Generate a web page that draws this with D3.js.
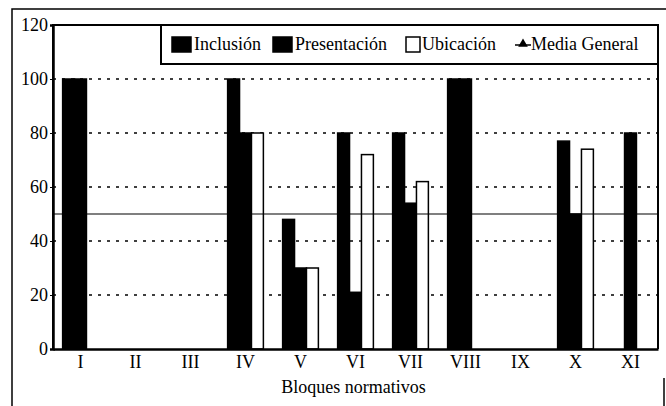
<!DOCTYPE html>
<meta charset="utf-8">
<body style="margin:0">
<svg width="666" height="406"></svg>
<script src="https://cdn.jsdelivr.net/npm/d3@7/dist/d3.min.js"></script>
<script>
// data
var bloques = ["I", "II", "III", "IV", "V", "VI", "VII", "VIII", "IX", "X", "XI"];
var inclusion    = [100, 0, 0, 100, 48, 80, 80, 100, 0, 77, 0];
var presentacion = [100, 0, 0, 80, 30, 21, 54, 100, 0, 50, 80];
var ubicacion    = [0, 0, 0, 80, 30, 72, 62, 0, 0, 74, 0];
var mediaGeneral = 50;
var yTicks = [0, 20, 40, 60, 80, 100, 120];

var serif = "'Liberation Serif'";

var series = [
  {name: "Inclusión", values: inclusion, fill: "#000"},
  {name: "Presentación", values: presentacion, fill: "#000"},
  {name: "Ubicación", values: ubicacion, fill: "#fff"}
];

var svg = d3.select("svg"),
    margin = {top: 25, right: 8, bottom: 57, left: 53},
    width = svg.attr("width") - margin.left - margin.right,
    height = svg.attr("height") - margin.top - margin.bottom;

// scanned page border
svg.append("path")
    .attr("d", "M12,420V9H666")
    .attr("fill", "none")
    .attr("stroke", "#000")
    .attr("stroke-width", 1.5);
svg.append("line")
    .attr("x1", 664).attr("x2", 664)
    .attr("y1", 378).attr("y2", 406)
    .attr("stroke", "#000")
    .attr("stroke-width", 1.5);

var g = svg.append("g").attr("transform", "translate(" + margin.left + "," + margin.top + ")");

var x0 = d3.scaleBand()
    .domain(bloques)
    .range([0, width])
    .paddingInner(0.35)
    .paddingOuter(0.175);

var x1 = d3.scaleBand()
    .domain(series.map(function(s) { return s.name; }))
    .range([0, x0.bandwidth()]);

var y = d3.scaleLinear()
    .domain([0, 120])
    .range([height, 0]);

// dotted gridlines
g.append("g")
    .selectAll("line")
    .data(yTicks.filter(function(t) { return t > 0 && t < 120; }))
    .enter().append("line")
    .attr("x1", 0)
    .attr("x2", width)
    .attr("y1", function(d) { return y(d); })
    .attr("y2", function(d) { return y(d); })
    .attr("stroke", "#000")
    .attr("stroke-width", 1.6)
    .attr("stroke-dasharray", "3 6");

// bars
var grupo = g.selectAll(".serie")
    .data(series)
    .enter().append("g")
    .attr("class", "serie");

grupo.selectAll("rect")
    .data(function(s) {
      return s.values.map(function(v, i) { return {serie: s, bloque: bloques[i], value: v}; })
        .filter(function(d) { return d.value > 0; });
    })
    .enter().append("rect")
    .attr("x", function(d) { return x0(d.bloque) + x1(d.serie.name); })
    .attr("y", function(d) { return y(d.value); })
    .attr("width", x1.bandwidth())
    .attr("height", function(d) { return height - y(d.value); })
    .attr("fill", function(d) { return d.serie.fill; })
    .attr("stroke", "#000")
    .attr("stroke-width", 1.5);

// media general
g.append("line")
    .attr("x1", 0)
    .attr("x2", width)
    .attr("y1", y(mediaGeneral))
    .attr("y2", y(mediaGeneral))
    .attr("stroke", "#000")
    .attr("stroke-width", 1.2);

// plot frame
g.append("path")
    .attr("d", "M0," + height + "V0H" + width + "V" + height)
    .attr("fill", "none")
    .attr("stroke", "#000")
    .attr("stroke-width", 2);

var yAxis = g.append("g")
    .call(d3.axisLeft(y).tickValues(yTicks).tickSize(3).tickPadding(2))
    .attr("font-family", null);
yAxis.select(".domain").attr("stroke-width", 2.5);
yAxis.selectAll("text")
    .style("font-size", "18px")
    .style("font-family", serif);

var xAxis = g.append("g")
    .attr("transform", "translate(0," + height + ")")
    .call(d3.axisBottom(x0).tickSize(0).tickPadding(6))
    .attr("font-family", null);
xAxis.select(".domain").attr("stroke-width", 2.5);
xAxis.selectAll("text")
    .style("font-size", "18px")
    .style("font-family", serif);

g.append("text")
    .attr("x", width / 2 - 2)
    .attr("y", height + 44)
    .attr("text-anchor", "middle")
    .style("font-size", "18px")
    .style("font-family", serif)
    .text("Bloques normativos");

// legend box
var legend = svg.append("g").attr("transform", "translate(161,25)");
legend.append("rect")
    .attr("width", 497)
    .attr("height", 39)
    .attr("fill", "#fff")
    .attr("stroke", "#000")
    .attr("stroke-width", 2);

var legendX = [11, 112, 245];
series.forEach(function(s, i) {
  var item = legend.append("g").attr("transform", "translate(" + legendX[i] + ",12)");
  item.append("rect")
      .attr("width", i == 2 ? 14 : 19)
      .attr("height", 15)
      .attr("fill", s.fill)
      .attr("stroke", "#000")
      .attr("stroke-width", 1.5);
  item.append("text")
      .attr("x", i == 2 ? 16 : 22)
      .attr("y", 13)
      .style("font-size", "18px")
      .style("font-family", serif)
      .text(s.name);
});

var mg = legend.append("g").attr("transform", "translate(354,12)");
mg.append("line")
    .attr("x1", 0).attr("x2", 16)
    .attr("y1", 8).attr("y2", 8)
    .attr("stroke", "#000")
    .attr("stroke-width", 1.5);
mg.append("path")
    .attr("d", d3.symbol().type(d3.symbolTriangle).size(40))
    .attr("transform", "translate(8,7)")
    .attr("fill", "#000");
mg.append("text")
    .attr("x", 16)
    .attr("y", 13)
    .style("font-size", "18px")
    .style("font-family", serif)
    .text("Media General");
</script>
</body>
